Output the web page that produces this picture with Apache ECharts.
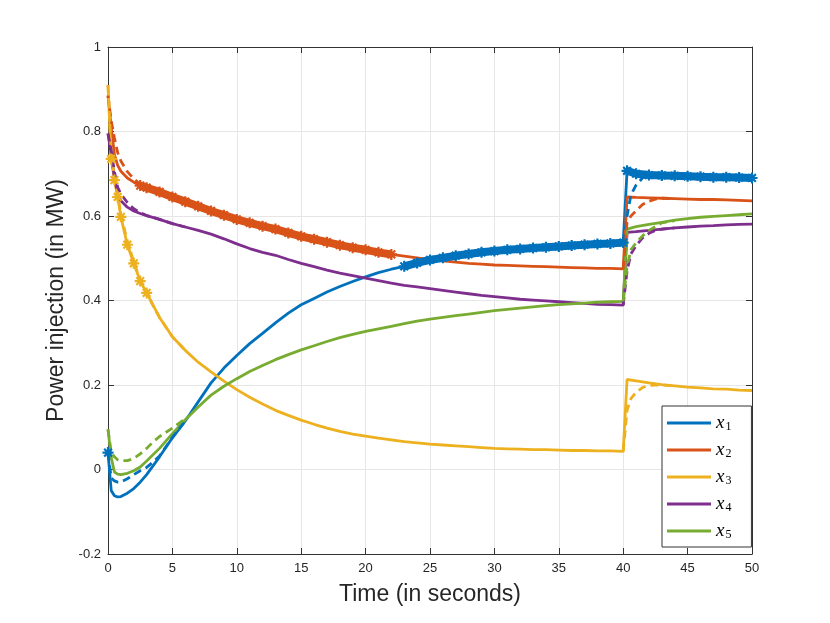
<!DOCTYPE html>
<html lang="en">
<head>
<meta charset="UTF-8">
<title>Power injection</title>
<script src="https://cdn.jsdelivr.net/npm/echarts@6/dist/echarts.min.js"></script>
<style>
    * { margin: 0; padding: 0; }
    #main { width: 830px; height: 623px; background: #fff; }
</style>
</head>
<body>
<div id="main"></div>
<script>
    // sample times (s) for the measured trajectories
    let time = [0, 0.25, 0.5, 0.75, 1, 1.5, 2, 2.5, 3,
        4, 5, 6, 7, 8, 9, 10, 11, 12, 13, 14, 15, 16, 17, 18, 19, 20, 21, 22, 23, 24, 25,
        26, 27, 28, 29, 30, 31, 32, 33, 34, 35, 36, 37, 38, 39, 40,
        40.3, 41, 42, 43, 44, 45, 46, 47, 48, 49, 50];

    let x1 = [0.04, -0.05, -0.062, -0.065, -0.064, -0.056, -0.045, -0.03, -0.012,
        0.03, 0.075, 0.115, 0.16, 0.205, 0.24, 0.27, 0.298, 0.322, 0.347, 0.37, 0.39, 0.405, 0.42, 0.433, 0.445, 0.456, 0.466, 0.474, 0.481, 0.489, 0.496,
        0.501, 0.506, 0.51, 0.514, 0.517, 0.52, 0.522, 0.524, 0.526, 0.528, 0.53, 0.532, 0.534, 0.535, 0.537,
        0.707, 0.70, 0.697, 0.696, 0.695, 0.694, 0.693, 0.692, 0.692, 0.691, 0.69];
    let x2 = [0.885, 0.81, 0.745, 0.72, 0.706, 0.69, 0.68, 0.672, 0.667,
        0.657, 0.645, 0.634, 0.623, 0.612, 0.602, 0.592, 0.584, 0.576, 0.569, 0.56, 0.552, 0.545, 0.538, 0.531, 0.525, 0.52, 0.514, 0.509, 0.505, 0.501, 0.497,
        0.494, 0.491, 0.488, 0.486, 0.484, 0.483, 0.482, 0.481, 0.48, 0.479, 0.478, 0.477, 0.476, 0.476, 0.475,
        0.645, 0.644, 0.643, 0.642, 0.641, 0.64, 0.639, 0.639, 0.638, 0.637, 0.636];
    let x3 = [0.91, 0.735, 0.685, 0.645, 0.598, 0.532, 0.488, 0.446, 0.418,
        0.36, 0.314, 0.282, 0.254, 0.231, 0.209, 0.189, 0.171, 0.155, 0.14, 0.128, 0.117, 0.107, 0.098, 0.09, 0.084, 0.079, 0.074, 0.07, 0.066, 0.063, 0.06,
        0.058, 0.056, 0.054, 0.052, 0.05, 0.049, 0.048, 0.047, 0.047, 0.046, 0.045, 0.045, 0.044, 0.044, 0.043,
        0.213, 0.21, 0.205, 0.201, 0.198, 0.195, 0.193, 0.191, 0.19, 0.188, 0.187];
    let x4 = [0.795, 0.745, 0.69, 0.652, 0.636, 0.621, 0.612, 0.606, 0.601,
        0.592, 0.582, 0.574, 0.566, 0.557, 0.546, 0.534, 0.523, 0.514, 0.507, 0.497, 0.488, 0.48, 0.472, 0.465, 0.459, 0.453, 0.447, 0.441, 0.436, 0.432, 0.428,
        0.424, 0.42, 0.416, 0.412, 0.409, 0.406, 0.403, 0.401, 0.399, 0.397, 0.395, 0.393, 0.391, 0.39, 0.389,
        0.561, 0.563, 0.566, 0.569, 0.572, 0.574, 0.576, 0.577, 0.579, 0.58, 0.581];
    let x5 = [0.095, 0.028, -0.006, -0.011, -0.012, -0.009, -0.003, 0.006, 0.02,
        0.05, 0.085, 0.118, 0.148, 0.176, 0.197, 0.215, 0.232, 0.246, 0.26, 0.272, 0.283, 0.293, 0.303, 0.312, 0.32, 0.327, 0.333, 0.339, 0.345, 0.351, 0.356,
        0.36, 0.364, 0.368, 0.372, 0.376, 0.379, 0.382, 0.385, 0.388, 0.39, 0.392, 0.394, 0.396, 0.397, 0.398,
        0.569, 0.575, 0.58, 0.585, 0.59, 0.594, 0.597, 0.599, 0.601, 0.603, 0.605];

    // dashed estimates, only where they differ from the trajectories (null = gap)
    let tEst = [0, 0.25, 0.5, 0.75, 1, 1.5, 2, 2.5, 3, 3.5, 4, 5, 6, 20,
        40, 40.3, 40.6, 41, 41.5, 42, 42.5, 43, 44];
    let est1 = [0.04, -0.02, -0.027, -0.03, -0.03, -0.022, -0.012, -0.003, 0.005, 0.018, 0.032, 0.076, 0.115, null,
        0.537, 0.6, 0.65, 0.673, 0.69, 0.696, 0.696, 0.696, 0.695];
    let est2 = [0.885, 0.825, 0.785, 0.75, 0.73, 0.705, 0.688, 0.675, 0.668, 0.662, 0.657, 0.645, 0.634, null,
        0.475, 0.585, 0.6, 0.612, 0.627, 0.635, 0.64, 0.642, 0.641];
    let est3 = [0.91, 0.75, 0.69, 0.65, 0.605, 0.54, 0.492, 0.448, 0.419, 0.388, 0.36, 0.314, 0.282, null,
        0.043, 0.14, 0.168, 0.183, 0.194, 0.199, 0.2, 0.2, 0.198];
    let est4 = [0.795, 0.755, 0.705, 0.668, 0.652, 0.632, 0.617, 0.608, 0.601, 0.597, 0.592, 0.582, 0.574, null,
        0.389, 0.47, 0.51, 0.53, 0.548, 0.559, 0.566, 0.569, 0.572];
    let est5 = [0.095, 0.04, 0.03, 0.023, 0.021, 0.021, 0.026, 0.037, 0.05, 0.065, 0.078, 0.098, 0.12, null,
        0.398, 0.48, 0.52, 0.537, 0.553, 0.566, 0.575, 0.584, 0.589];

    // time windows carrying '*' markers
    let mark1 = [[0, 0], [23, 40], [40.3, 50]];
    let mark2 = [[2.5, 22]];
    let mark3 = [[0.25, 3]];

    let names = ['x1', 'x2', 'x3', 'x4', 'x5'];
    let colors = ['#0072BD', '#D95319', '#EDB120', '#7E2F8E', '#77AC30'];
    let star = 'path://M0 8L20 8L20 12L0 12Z M8 0L12 0L12 20L8 20Z M4.4 1.6L18.4 15.6L15.6 18.4L1.6 4.4Z M15.6 1.6L18.4 4.4L4.4 18.4L1.6 15.6Z';

    function pairs(ts, vs) {
        return ts.map((t, i) => [t, vs[i] === null ? '-' : vs[i]]);
    }
    function pick(ts, vs, ranges) {
        let out = [];
        ranges.forEach((r, k) => {
            if (k > 0) out.push([r[0], '-']);
            ts.forEach((t, i) => {
                if (t >= r[0] && t <= r[1]) out.push([t, vs[i]]);
            });
        });
        return out;
    }

    let solid = [x1, x2, x3, x4, x5];
    let est = [est1, est2, est3, est4, est5];
    let series = [];
    solid.forEach((vs, i) => {
        series.push({
            name: names[i], type: 'line', data: pairs(time, vs),
            showSymbol: false, color: colors[i],
            lineStyle: { width: 2.8, color: colors[i] }
        });
    });
    est.forEach((vs, i) => {
        series.push({
            name: names[i] + ' est', type: 'line', data: pairs(tEst, vs),
            showSymbol: false, color: colors[i],
            lineStyle: { width: 2.8, color: colors[i], type: [8, 5] }
        });
    });
    [[0, mark1, 8], [1, mark2, 8], [2, mark3, 0]].forEach(([i, ranges, w]) => {
        series.push({
            name: names[i] + ' mark', type: 'line', data: pick(time, solid[i], ranges),
            symbol: star, symbolSize: 11, showSymbol: true, color: colors[i],
            itemStyle: { color: colors[i] },
            lineStyle: { width: w, color: colors[i], opacity: w ? 1 : 0 }
        });
    });

    let axisColor = '#333333';
    let labelFont = { fontFamily: 'Liberation Sans', fontSize: 13, color: '#262626' };
    let myChart = echarts.init(document.getElementById('main'));
    myChart.setOption({
        animation: false,
        backgroundColor: '#fff',
        grid: { left: 108, right: 78, top: 47, bottom: 69 },
        legend: {
            data: names,
            orient: 'vertical',
            left: 662, top: 406,
            padding: [7, 20, 6, 5],
            itemGap: 7,
            itemWidth: 44, itemHeight: 3,
            icon: 'rect',
            backgroundColor: '#fff',
            borderColor: axisColor, borderWidth: 1,
            formatter: n => '{i|x}{s|' + n.slice(1) + '}',
            textStyle: {
                rich: {
                    i: { fontFamily: 'Liberation Serif', fontStyle: 'italic', fontSize: 19, lineHeight: 20, color: '#000' },
                    s: { fontFamily: 'Liberation Serif', fontSize: 12, lineHeight: 20, padding: [8, 0, 0, 1], color: '#000' }
                }
            }
        },
        xAxis: [{
            type: 'value', min: 0, max: 50, interval: 5,
            name: 'Time (in seconds)', nameLocation: 'middle', nameGap: 29,
            nameTextStyle: { fontFamily: 'Liberation Sans', fontSize: 23, color: '#262626' },
            axisLine: { show: true, onZero: false, lineStyle: { color: axisColor } },
            axisTick: { inside: true, length: 6, lineStyle: { color: axisColor } },
            axisLabel: Object.assign({ margin: 8 }, labelFont),
            splitLine: { show: true, lineStyle: { color: '#e6e6e6' } }
        }, {
            type: 'value', min: 0, max: 50, interval: 5, position: 'top',
            axisLine: { show: true, onZero: false, lineStyle: { color: axisColor } },
            axisTick: { inside: true, length: 6, lineStyle: { color: axisColor } },
            axisLabel: { show: false }, splitLine: { show: false }
        }],
        yAxis: [{
            type: 'value', min: -0.2, max: 1, interval: 0.2,
            name: 'Power injection (in MW)', nameLocation: 'middle', nameGap: 34,
            nameTextStyle: { fontFamily: 'Liberation Sans', fontSize: 23, color: '#262626' },
            axisLine: { show: true, onZero: false, lineStyle: { color: axisColor } },
            axisTick: { inside: true, length: 6, lineStyle: { color: axisColor } },
            axisLabel: Object.assign({ margin: 7, formatter: v => String(+v.toFixed(1)) }, labelFont),
            splitLine: { show: true, lineStyle: { color: '#e6e6e6' } }
        }, {
            type: 'value', min: -0.2, max: 1, interval: 0.2, position: 'right',
            axisLine: { show: true, onZero: false, lineStyle: { color: axisColor } },
            axisTick: { inside: true, length: 6, lineStyle: { color: axisColor } },
            axisLabel: { show: false }, splitLine: { show: false }
        }],
        series: series
    });
</script>
</body>
</html>
